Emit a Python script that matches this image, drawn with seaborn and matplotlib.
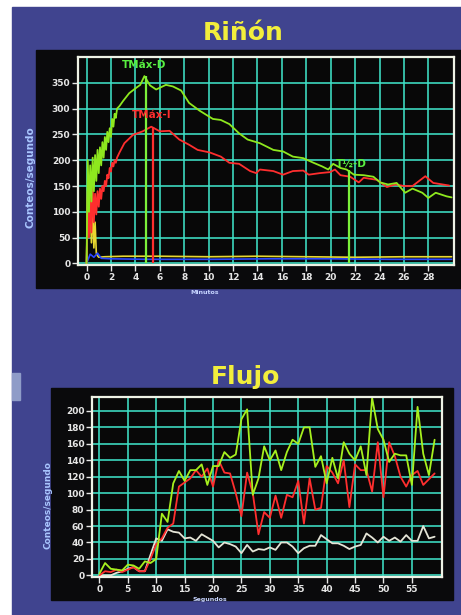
import numpy as np
import pandas as pd
import seaborn as sns
import matplotlib
matplotlib.use("Agg")
import matplotlib.pyplot as plt
from matplotlib.patches import Rectangle

# --- Riñón (renograma, minutos) ---
t_der = [0, 0.1, 0.2, 0.3, 0.4, 0.5, 0.6, 0.7, 0.8, 0.9,
         1.0, 1.1, 1.2, 1.3, 1.4, 1.5, 1.6, 1.7, 1.8, 1.9,
         2.0, 2.1, 2.2, 2.3, 2.4, 2.5, 2.7, 3.0, 3.5, 4.05,
         4.4, 4.74, 5.2, 5.7, 6.5, 7.07, 7.75, 8.4, 9.26, 10.35,
         11.0, 11.7, 12.5, 13.2, 14.2, 15.3, 16.1, 16.9, 17.75, 18.6,
         19.3, 19.8, 20.2, 20.8, 21.3, 21.9, 22.7, 23.5, 24.05, 24.7,
         25.4, 26.1, 26.7, 27.5, 28.0, 28.6, 29.5, 29.9]
c_der = [0, 200, 100, 190, 120, 205, 140, 210, 160, 220,
         175, 225, 190, 235, 205, 245, 220, 255, 235, 262,
         245, 280, 265, 290, 282, 300, 305, 315, 330, 340,
         346, 363, 345, 337, 346, 343, 335, 311, 296, 280,
         278, 270, 252, 240, 233, 220, 217, 207, 204, 195,
         188, 182, 193, 185, 182, 172, 171, 168, 157, 153,
         156, 137, 145, 137, 127, 137, 130, 128]

t_izq = [0, 0.1, 0.2, 0.3, 0.4, 0.5, 0.6, 0.7, 0.8, 0.9,
         1.0, 1.1, 1.2, 1.3, 1.4, 1.5, 1.6, 1.7, 1.8, 1.9,
         2.0, 2.1, 2.2, 2.3, 2.4, 2.5, 2.7, 3.1, 3.8, 4.6,
         5.3, 6.0, 6.8, 7.6, 8.4, 9.1, 10.1, 11.0, 11.7, 12.5,
         13.4, 13.9, 14.2, 15.3, 16.1, 16.9, 17.75, 18.2, 19.1, 19.95,
         20.35, 20.8, 21.6, 22.3, 22.7, 23.8, 24.6, 25.3, 26.0, 26.7,
         27.75, 28.4, 29.7]
c_izq = [0, 140, 50, 145, 60, 150, 80, 135, 95, 140,
         110, 145, 125, 150, 140, 160, 150, 172, 165, 185,
         178, 195, 188, 200, 195, 205, 215, 233, 249, 256,
         265, 256, 257, 240, 230, 220, 215, 207, 195, 193,
         179, 175, 182, 179, 172, 179, 180, 172, 175, 177,
         182, 171, 168, 157, 166, 162, 148, 153, 150, 150,
         169, 156, 151]

t_fondo = [0, 0.1, 0.2, 0.3, 0.4, 0.5, 0.6, 0.7, 0.8, 0.9,
           1.0, 1.5, 3, 6, 10, 14, 18, 22, 26, 29.9]
c_fondo = [0, 150, 60, 130, 40, 110, 30, 80, 20, 15,
           12, 13, 14, 14, 13, 14, 13, 12, 13, 13]
t_vejiga = [0, 0.3, 0.6, 0.9, 1.2, 2, 5, 10, 15, 20, 25, 29.9]
c_vejiga = [0, 18, 12, 20, 10, 9, 8, 8, 9, 9, 8, 8]

tmax_d, tmax_d_val = 4.9, 363
tmax_i, tmax_i_val = 5.45, 265
tmedio_d, tmedio_d_val = 21.5, 182

# --- Flujo (segundos) ---
seg = list(range(60))
flujo_der = [2, 15, 8, 7, 6, 13, 12, 8, 17, 15,
             20, 75, 65, 112, 127, 115, 128, 128, 135, 110,
             133, 133, 150, 143, 147, 190, 202, 98, 118, 157,
             140, 152, 128, 150, 165, 160, 180, 180, 132, 145,
             112, 143, 118, 162, 148, 140, 157, 122, 216, 178,
             165, 138, 148, 146, 146, 110, 205, 148, 122, 165]
flujo_izq = [0, 5, 4, 7, 4, 7, 10, 5, 5, 20,
             38, 45, 58, 63, 108, 113, 118, 128, 120, 130,
             108, 140, 125, 124, 100, 72, 125, 100, 50, 77,
             70, 97, 70, 98, 95, 115, 63, 118, 80, 82,
             133, 125, 112, 140, 83, 135, 128, 128, 102, 162,
             95, 162, 145, 120, 108, 122, 127, 110, 117, 124]
flujo_aorta = [0, 0, 0, 3, 5, 8, 10, 5, 5, 25,
               45, 42, 56, 53, 52, 45, 46, 42, 50, 46,
               42, 34, 40, 38, 35, 27, 37, 29, 32, 31,
               34, 31, 40, 40, 35, 27, 33, 36, 36, 49,
               44, 39, 39, 36, 32, 35, 37, 51, 46, 40,
               47, 42, 46, 41, 49, 42, 42, 60, 45, 47]

sns.set_theme(style="dark")
plt.rcParams["font.family"] = ["DejaVu Sans"]
plt.rcParams["font.weight"] = "bold"

NAVY = "#40448f"
GRID = "#3fe0c6"
FRAME = "#eef2e6"
GREEN = "#8ee81e"
RED = "#ff2e2e"
YELLOW = "#e8d830"
TXT = "#e6e6e6"
LBL = "#a9c6ff"

fig = plt.figure(figsize=(4.61, 6.15), dpi=100)
fig.patch.set_facecolor("white")
fig.add_artist(Rectangle((12 / 461, 0), 1, 608 / 615, transform=fig.transFigure,
                         color=NAVY, zorder=-3))
# black panels behind each chart
fig.add_artist(Rectangle((36 / 461, 327 / 615), 425 / 461, 238 / 615,
                         transform=fig.transFigure, color="#0a0a0c", zorder=-2))
fig.add_artist(Rectangle((51 / 461, 15 / 615), 402 / 461, 212 / 615,
                         transform=fig.transFigure, color="#0a0a0c", zorder=-2))
fig.add_artist(Rectangle((12 / 461, 215 / 615), 8 / 461, 27 / 615,
                         transform=fig.transFigure, color="#8f9cc8", zorder=-2))


def style_axes(ax):
    ax.set_facecolor("#080808")
    ax.grid(True, color=GRID, lw=1.15)
    ax.set_axisbelow(True)
    for s in ax.spines.values():
        s.set_color(FRAME)
        s.set_linewidth(1.6)
    ax.tick_params(colors=TXT, labelcolor=TXT, labelsize=6.5, direction="out",
                   length=4, width=1, pad=1.5, bottom=True, left=True)
    ax.set_xlabel("")
    ax.set_ylabel("")


ax1 = fig.add_axes([78 / 461, 350 / 615, 376 / 461, 208 / 615])
sns.lineplot(x=t_fondo, y=c_fondo, ax=ax1, color=YELLOW, lw=1.2, estimator=None)
sns.lineplot(x=t_vejiga, y=c_vejiga, ax=ax1, color="#2b46ff", lw=1.2, estimator=None)
sns.lineplot(x=t_izq, y=c_izq, ax=ax1, color=RED, lw=1.3, estimator=None)
sns.lineplot(x=t_der, y=c_der, ax=ax1, color=GREEN, lw=1.3, estimator=None)
ax1.vlines(tmax_d, 0, tmax_d_val, color="#7cf03a", lw=1.6)
ax1.vlines(tmax_i, 0, tmax_i_val, color=RED, lw=1.6)
ax1.vlines(tmedio_d, 0, tmedio_d_val, color="#7cf03a", lw=1.6)
ax1.text(4.7, 384, "TMáx-D", color="#58f040", fontsize=7.5, ha="center", va="center")
ax1.text(5.3, 288, "TMáx-I", color=RED, fontsize=7.5, ha="center", va="center")
ax1.text(21.7, 193, "T½-D", color="#58f040", fontsize=7.5, ha="center", va="center")
ax1.set_xlim(-0.7, 30.1)
ax1.set_ylim(-3, 400)
ax1.set_xticks(range(0, 29, 2))
ax1.set_yticks(range(0, 351, 50))
style_axes(ax1)

ax2 = fig.add_axes([92 / 461, 38 / 615, 350 / 461, 180 / 615])
sns.lineplot(x=seg, y=flujo_aorta, ax=ax2, color="#e4e4d6", lw=1.3, estimator=None)
sns.lineplot(x=seg, y=flujo_izq, ax=ax2, color=RED, lw=1.3, estimator=None)
sns.lineplot(x=seg, y=flujo_der, ax=ax2, color="#a6f01e", lw=1.3, estimator=None)
ax2.set_xlim(-1.3, 60.3)
ax2.set_ylim(-2, 217)
ax2.set_xticks(range(0, 56, 5))
ax2.set_yticks(range(0, 201, 20))
style_axes(ax2)

fig.text(243 / 461, 1 - 33 / 615, "Riñón", color="#f2ee3c", fontsize=18,
         fontweight="bold", ha="center", va="center")
fig.text(245 / 461, 1 - 377 / 615, "Flujo", color="#f2ee3c", fontsize=18,
         fontweight="bold", ha="center", va="center")
fig.text(30 / 461, 1 - 177 / 615, "Conteos/segundo", color=LBL, fontsize=7.5,
         rotation=90, ha="center", va="center")
fig.text(48 / 461, 1 - 505 / 615, "Conteos/segundo", color=LBL, fontsize=6.5,
         rotation=90, ha="center", va="center")
fig.text(205 / 461, 1 - 292 / 615, "Minutos", color="#c6d4ff", fontsize=4.5,
         ha="center", va="center")
fig.text(210 / 461, 1 - 600 / 615, "Segundos", color="#c6d4ff", fontsize=4.5,
         ha="center", va="center")

fig.savefig("out.png", dpi=100, facecolor=fig.get_facecolor())
